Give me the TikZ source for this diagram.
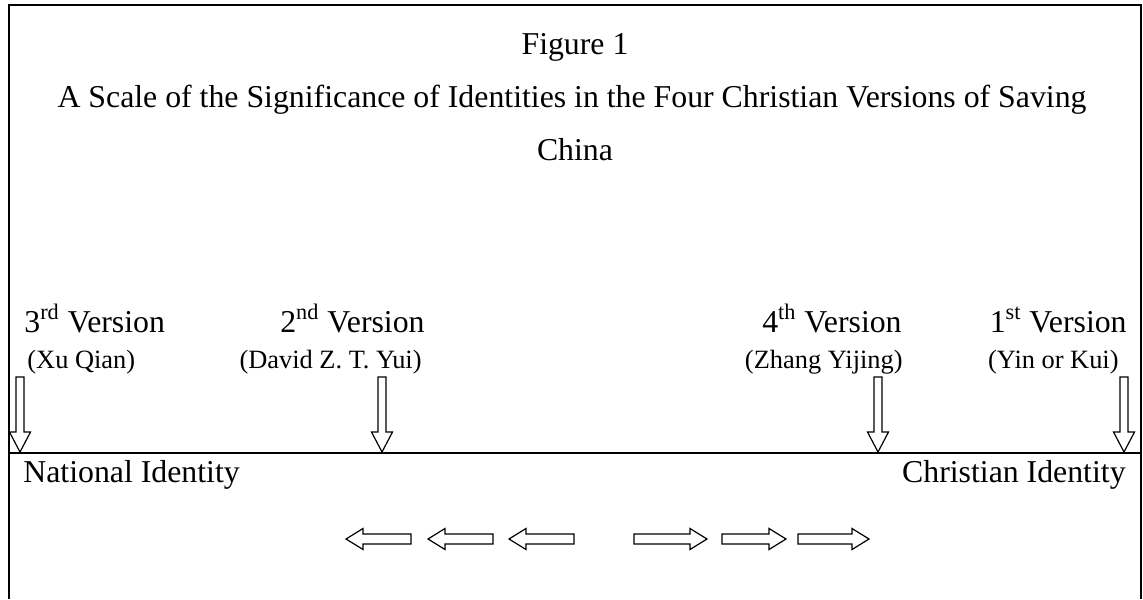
\documentclass[tikz,border=0pt]{standalone}
\usepackage{fontspec}
\setmainfont{Liberation Serif}
\usepackage{tikz}
\usetikzlibrary{positioning}
\usetikzlibrary{calc}

\tikzset{
	bigtext/.style={font=\fontsize{15.9}{19}\selectfont, inner sep=0pt},
	smalltext/.style={font=\fontsize{13.2}{16}\selectfont, inner sep=0pt},
	frameline/.style={line width=1pt},
	blockline/.style={line width=0.6pt, fill=white},
	% hollow block arrows, tip at the pic origin
	pics/downarr/.style={code={
		\draw[blockline] (0,0) -- (-10.5,-20) -- (-4,-20) -- (-4,-75)
			-- (4,-75) -- (4,-20) -- (10.5,-20) -- cycle;
	}},
	pics/sidearr/.style={code={
		\draw[blockline] (0,0) -- (17,-10.5) -- (17,-5) -- (#1,-5)
			-- (#1,5) -- (17,5) -- (17,10.5) -- cycle;
	}},
}

\begin{document}
\begin{tikzpicture}[x=0.5pt, y=-0.5pt]
	
	% ------------------------------------------------
	% Page size of the figure
	\useasboundingbox (0,0) rectangle (1143,599);
	
	% ------------------------------------------------
	% Frame and scale line
	\coordinate (FrameTL) at (9,5);
	\coordinate (FrameTR) at (1141,5);
	\coordinate (FrameBL) at (9,599);
	\coordinate (FrameBR) at (1141,599);
	\coordinate (AxisL) at (9,453);
	\coordinate (AxisR) at (1141,453);
	
	\draw[frameline] (FrameBL) -- (FrameTL) -- (FrameTR) -- (FrameBR);
	\draw[frameline] (AxisL) -- (AxisR);
	
	% ------------------------------------------------
	% Heading
	\node[bigtext, anchor=base] (Fig) at (575,55) {Figure 1};
	\node[bigtext, anchor=base] (Title) at (572,107) {A Scale of the Significance of Identities in the Four Christian Versions of Saving};
	\node[bigtext, anchor=base] (TitleEnd) at (575,160) {China};
	
	% ------------------------------------------------
	% Versions along the scale
	\node[bigtext, anchor=base west] (Ver3) at (24,332) {3\textsuperscript{rd} Version};
	\node[smalltext, anchor=base west] (Who3) at (27,368) {(Xu Qian)};
	
	\node[bigtext, anchor=base east] (Ver2) at (425,332) {2\textsuperscript{nd} Version};
	\node[smalltext, anchor=base east] (Who2) at (422,368) {(David Z. T. Yui)};
	
	\node[bigtext, anchor=base east] (Ver4) at (902,332) {4\textsuperscript{th} Version};
	\node[smalltext, anchor=base east] (Who4) at (903,368) {(Zhang Yijing)};
	
	\node[bigtext, anchor=base east] (Ver1) at (1127,332) {1\textsuperscript{st} Version};
	\node[smalltext, anchor=base east] (Who1) at (1119,368) {(Yin or Kui)};
	
	% Ends of the scale
	\node[bigtext, anchor=base west] (National) at (23,482) {National Identity};
	\node[bigtext, anchor=base east] (Christian) at (1126,482) {Christian Identity};
	
	% ------------------------------------------------
	% Markers pointing onto the scale
	\path (AxisL) +(11,-1) coordinate (Tip3);
	\path (AxisL) +(373,-1) coordinate (Tip2);
	\path (AxisL) +(869,-1) coordinate (Tip4);
	\path (AxisL) +(1115,-1) coordinate (Tip1);
	
	\pic at (Tip3) {downarr};
	\pic at (Tip2) {downarr};
	\pic at (Tip4) {downarr};
	\pic at (Tip1) {downarr};
	
	% ------------------------------------------------
	% Direction arrows below the scale
	\pic at (346,539) {sidearr=65};
	\pic at (428,539) {sidearr=65};
	\pic at (509,539) {sidearr=65};
	
	\pic[xscale=-1] at (707,539) {sidearr=73};
	\pic[xscale=-1] at (786,539) {sidearr=64};
	\pic[xscale=-1] at (869,539) {sidearr=71};
	
\end{tikzpicture}
\end{document}
